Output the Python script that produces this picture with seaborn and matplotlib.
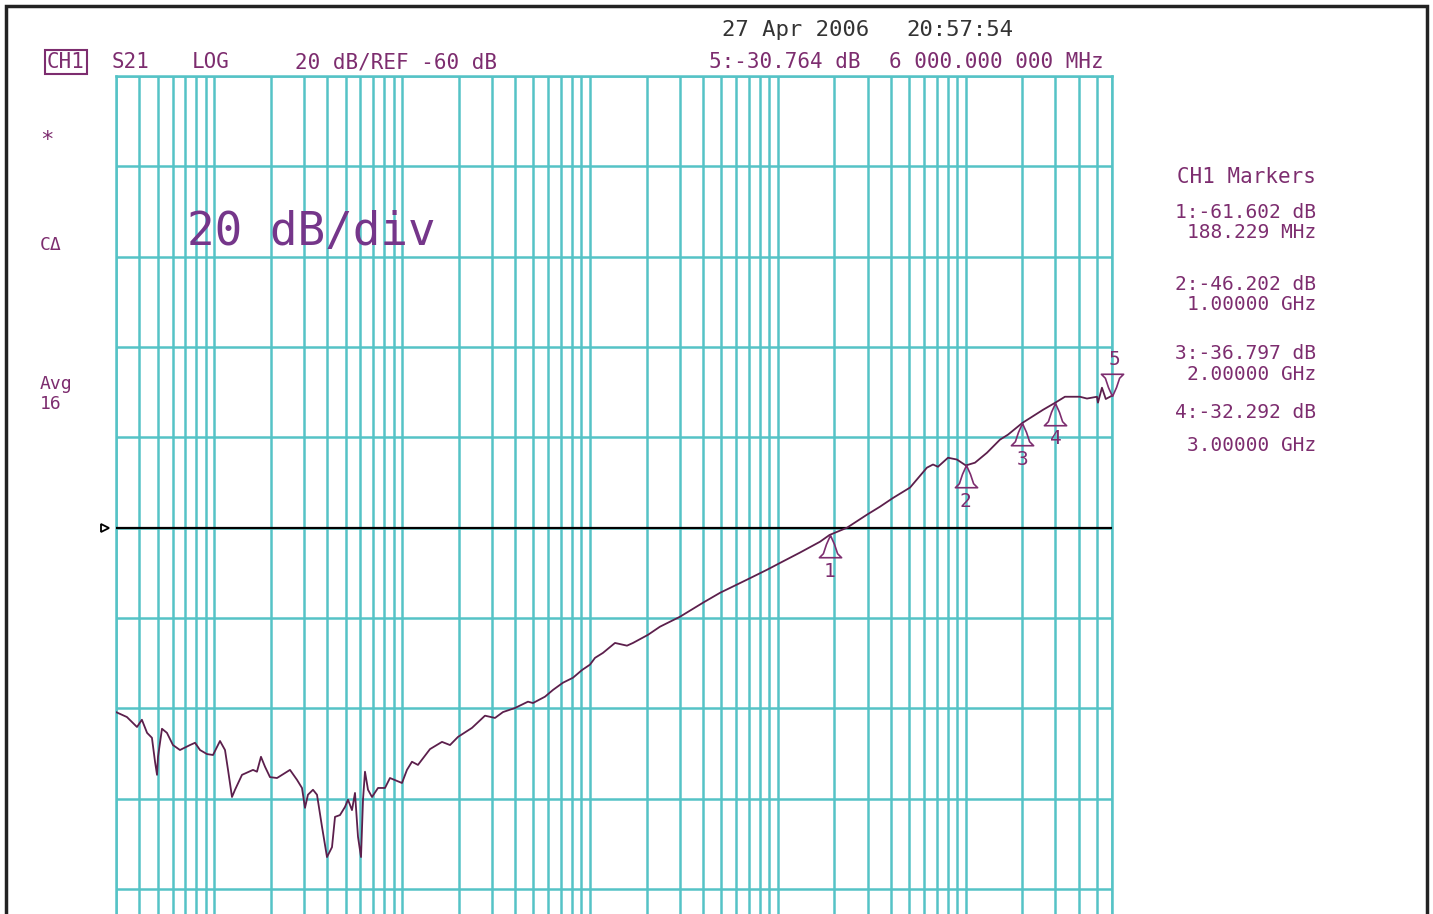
import pandas as pd
import numpy as np
import matplotlib
matplotlib.use("Agg")
import matplotlib.pyplot as plt
from matplotlib.path import Path
from matplotlib.patches import Rectangle
from matplotlib.ticker import LogLocator, NullLocator
import seaborn as sns

# S21 trace (MHz, dB)
freq_mhz = [0.0300, 0.0343, 0.0388, 0.0412, 0.0439, 0.0466, 0.0484, 0.0496, 0.0502, 0.0527,
            0.0560, 0.0603, 0.0657, 0.0743, 0.0790, 0.0840, 0.0915, 0.0985, 0.1073, 0.1141,
            0.1184, 0.1243, 0.1290, 0.1405, 0.1608, 0.1688, 0.1773, 0.1863, 0.1980, 0.2158,
            0.2530, 0.2757, 0.2931, 0.3041, 0.3153, 0.3354, 0.3523, 0.3746, 0.3982, 0.4234,
            0.4393, 0.4669, 0.4965, 0.5151, 0.5409, 0.5612, 0.5822, 0.6041, 0.6191, 0.6343,
            0.6583, 0.6913, 0.7441, 0.8106, 0.8616, 0.9980, 1.061, 1.128, 1.214, 1.407,
            1.630, 1.798, 1.983, 2.354, 2.760, 3.120, 3.441, 3.987, 4.674, 4.971,
            5.757, 6.351, 7.179, 8.115, 9.060, 9.996, 10.63, 11.72, 13.58, 15.73,
            16.93, 20.35, 23.57, 30.11, 39.9, 49.2, 68.4, 87.5, 102.5, 131.0,
            167.4, 188.229, 233, 298, 349, 410, 505, 621, 669, 711,
            804, 897, 1000, 1119, 1296, 1520, 1676, 2000, 2574, 3000,
            3370, 4050, 4415, 4990, 5052, 5305, 5560, 6000]
s21_db = [-100.8, -101.9, -104.1, -102.5, -105.4, -106.5, -111.8, -114.7, -110.7, -104.5,
          -105.4, -108.1, -109.2, -108.1, -107.6, -109.2, -110.1, -110.3, -107.2, -109.2,
          -113.6, -119.6, -118.0, -114.7, -113.6, -114.0, -110.7, -112.9, -115.2, -115.4,
          -113.6, -115.8, -117.6, -122.0, -119.1, -118.0, -119.1, -126.2, -132.9, -130.7,
          -124.0, -123.6, -121.8, -120.2, -122.5, -118.7, -128.4, -132.9, -120.2, -114.0,
          -118.0, -119.6, -117.6, -117.6, -115.4, -116.5, -113.6, -111.8, -112.5, -109.0,
          -107.4, -108.1, -106.3, -104.3, -101.6, -102.1, -100.8, -99.9, -98.5, -98.8,
          -97.4, -95.9, -94.3, -93.2, -91.5, -90.3, -88.8, -87.7, -85.5, -86.1,
          -85.5, -83.7, -81.9, -79.7, -76.6, -74.4, -71.5, -69.3, -67.8, -65.5,
          -63.1, -61.602, -60.0, -57.1, -55.35, -53.4, -51.1, -46.7, -46.0, -46.5,
          -44.5, -44.9, -46.202, -45.6, -43.4, -40.5, -39.4, -36.797, -33.9, -32.292,
          -31.0, -31.0, -31.4, -31.0, -32.3, -29.0, -31.5, -30.764]

# markers
marker_id = ["1", "2", "3", "4", "5"]
marker_freq = [188.229, 1000, 2000, 3000, 6000]
marker_db = [-61.602, -46.202, -36.797, -32.292, -30.764]
marker_text = ["1:-61.602 dB", "188.229 MHz", "2:-46.202 dB", "1.00000 GHz",
               "3:-36.797 dB", "2.00000 GHz", "4:-32.292 dB", "3.00000 GHz"]

ref_db = -60
f_start, f_stop = 0.03, 6000

W, H = 1433, 914
teal = "#55c3c6"
purple = "#7d2d6f"
trace_col = "#5c1f4c"
mono = "DejaVu Sans Mono"

sns.set_theme(style="white")
plt.rcParams["font.family"] = [mono, "DejaVu Sans"]

fig = plt.figure(figsize=(W / 100, H / 100), dpi=100)
fig.patch.set_facecolor("white")

def fx(px):
    return px / W

def fy(py):
    return 1 - py / H

ax = fig.add_axes([fx(116), 0, fx(1112) - fx(116), fy(76)])
ax.set_facecolor("white")

df = pd.DataFrame({"freq": freq_mhz, "db": s21_db})
sns.lineplot(data=df, x="freq", y="db", ax=ax, color=trace_col, lw=1.3,
             estimator=None, sort=False, zorder=5)

ax.set_xscale("log")
ax.set_xlim(f_start, f_stop)
ax.set_ylim(-145.5, 40)
ax.xaxis.set_major_locator(LogLocator(base=10, subs=np.arange(1, 10), numticks=100))
ax.xaxis.set_minor_locator(NullLocator())
ax.set_yticks(np.arange(-140, 41, 20))
ax.grid(True, which="major", color=teal, lw=1.8)
ax.tick_params(length=0, labelbottom=False, labelleft=False)
ax.set_xlabel("")
ax.set_ylabel("")
for side in ["left", "right", "top"]:
    ax.spines[side].set_color(teal)
    ax.spines[side].set_linewidth(1.8)
ax.spines["bottom"].set_visible(False)

# reference line
ax.axhline(ref_db, color="black", lw=1.6, zorder=4)
ax.plot([-0.011], [ref_db], marker=">", ms=6, mfc="white", mec="black", mew=1.3,
        transform=ax.get_yaxis_transform(), clip_on=False, zorder=6)

# marker glyphs: apex sits on the trace
up = Path([(0, 0), (-0.18, -0.4), (-0.32, -0.82), (-0.5, -1.0), (0.5, -1.0),
           (0.32, -0.82), (0.18, -0.4), (0, 0)])
down = Path([(x, -y) for x, y in up.vertices])
for mid, mf, md in zip(marker_id, marker_freq, marker_db):
    if mid == "5":
        ax.plot([mf], [md], marker=down, ms=32, mfc="none", mec=purple, mew=1.2,
                clip_on=False, zorder=7)
        ax.annotate(mid, (mf, md), xytext=(2, 26), textcoords="offset points",
                    ha="center", va="center", color=purple, fontsize=14,
                    annotation_clip=False)
    else:
        ax.plot([mf], [md], marker=up, ms=32, mfc="none", mec=purple, mew=1.2,
                clip_on=False, zorder=7)
        ax.annotate(mid, (mf, md), xytext=(0, -26), textcoords="offset points",
                    ha="center", va="center", color=purple, fontsize=14,
                    annotation_clip=False)

# screen annotations
ax.text(0.071, 0.813, "20 dB/div", transform=ax.transAxes, fontsize=33,
        color="#75368a", ha="left", va="center", family=mono)

fig.text(fx(47), fy(62), "CH1", fontsize=15, color=purple, va="center", ha="left",
         bbox=dict(boxstyle="square,pad=0.1", fc="white", ec=purple, lw=1.5))
fig.text(fx(112), fy(62), "S21", fontsize=15, color=purple, va="center")
fig.text(fx(192), fy(62), "LOG", fontsize=15, color=purple, va="center")
fig.text(fx(295), fy(62), "20 dB/REF -60 dB", fontsize=15, color=purple, va="center")
fig.text(fx(709), fy(62), "5:-30.764 dB", fontsize=15, color=purple, va="center")
fig.text(fx(1104), fy(62), "6 000.000 000 MHz", fontsize=15, color=purple,
         va="center", ha="right")
fig.text(fx(722), fy(30), "27 Apr 2006", fontsize=16, color="#333333", va="center")
fig.text(fx(906), fy(30), "20:57:54", fontsize=16, color="#333333", va="center")

fig.text(fx(40), fy(140), "*", fontsize=16, color=purple, va="center")
fig.text(fx(40), fy(245), "CΔ", fontsize=13, color=purple, va="center")
fig.text(fx(40), fy(384), "Avg", fontsize=13, color=purple, va="center")
fig.text(fx(40), fy(404), "16", fontsize=13, color=purple, va="center")

fig.text(fx(1316), fy(177), "CH1 Markers", fontsize=15, color=purple,
         va="center", ha="right")
right_y = [212, 233, 284, 304, 354, 375, 412, 446]
for txt, py in zip(marker_text, right_y):
    fig.text(fx(1316), fy(py), txt, fontsize=14, color=purple, va="center", ha="right")

# outer frame
fig.patches.append(Rectangle((fx(6), -0.02), fx(1427) - fx(6), fy(6) + 0.02,
                             transform=fig.transFigure, fill=False, ec="#222222",
                             lw=2.5, zorder=10))

fig.savefig("out.png", dpi=100)
